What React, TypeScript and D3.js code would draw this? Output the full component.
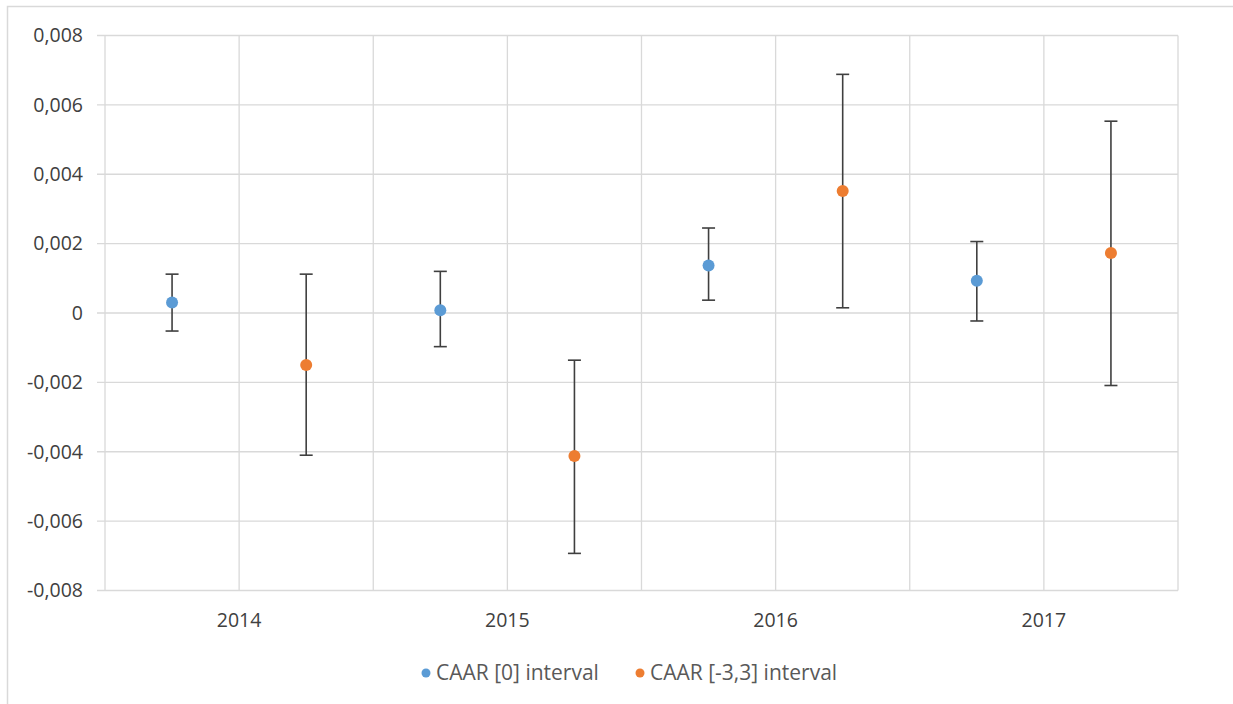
import React from "react";
import * as d3 from "d3";

const years = ["2014", "2015", "2016", "2017"];
const blueValues = [0.0003, 0.00008, 0.00137, 0.00093];
const blueLow = [-0.00052, -0.00097, 0.00037, -0.00023];
const blueHigh = [0.00112, 0.0012, 0.00245, 0.00206];
const orangeValues = [-0.0015, -0.00412, 0.00352, 0.00173];
const orangeLow = [-0.0041, -0.00693, 0.00015, -0.00209];
const orangeHigh = [0.00112, -0.00136, 0.00688, 0.00553];
const yTicks = [-0.008, -0.006, -0.004, -0.002, 0, 0.002, 0.004, 0.006, 0.008];
const seriesNames = ["CAAR [0] interval", "CAAR [-3,3] interval"];
const seriesColors = ["#5B9BD5", "#ED7D31"];

const W = 1233;
const H = 704;
const plot = { left: 105, right: 1178, top: 35.5, bottom: 590.5 };
const FONT = "'Open Sans', sans-serif";
const TEXT = "#404040";
const GRID = "#d9d9d9";

export default function App() {
  const x = d3.scaleLinear().domain([0, years.length * 2]).range([plot.left, plot.right]);
  const y = d3.scaleLinear().domain([-0.008, 0.008]).range([plot.bottom, plot.top]);
  const fmt = (v: number) => (Math.abs(v) < 1e-12 ? "0" : d3.format(".3f")(v).replace(".", ",").replace("−", "-"));
  const vGrid = d3.range(0, years.length * 2 + 1);

  const series = [
    { vals: blueValues, lo: blueLow, hi: blueHigh, offset: 0.5, color: seriesColors[0] },
    { vals: orangeValues, lo: orangeLow, hi: orangeHigh, offset: 1.5, color: seriesColors[1] },
  ];

  return (
    <svg width={W} height={H} style={{ position: "absolute", left: 0, top: 0, background: "#fff" }}>
      <rect x={7.5} y={6.5} width={W} height={H} fill="#fff" stroke={GRID} strokeWidth={1.5} />
      {yTicks.map((t) => (
        <g key={"y" + t}>
          <line x1={plot.left - 8} x2={plot.right} y1={y(t)} y2={y(t)} stroke={GRID} strokeWidth={1.3} />
          <text x={83} y={y(t)} dy="0.35em" textAnchor="end" fontFamily={FONT} fontSize={19.5} fill={TEXT}>
            {fmt(t)}
          </text>
        </g>
      ))}
      {vGrid.map((g) => (
        <line key={"v" + g} x1={x(g)} x2={x(g)} y1={plot.top} y2={plot.bottom} stroke={GRID} strokeWidth={1.3} />
      ))}
      {years.map((yr, i) => (
        <text key={yr} x={x(i * 2 + 1)} y={620} dy="0.35em" textAnchor="middle" fontFamily={FONT} fontSize={19.5} fill={TEXT}>
          {yr}
        </text>
      ))}
      {series.map((s, si) =>
        s.vals.map((v, i) => {
          const cx = x(i * 2 + s.offset);
          return (
            <g key={si + "-" + i}>
              <line x1={cx} x2={cx} y1={y(s.lo[i])} y2={y(s.hi[i])} stroke="#3f3f3f" strokeWidth={1.6} />
              <line x1={cx - 6.5} x2={cx + 6.5} y1={y(s.lo[i])} y2={y(s.lo[i])} stroke="#3f3f3f" strokeWidth={1.6} />
              <line x1={cx - 6.5} x2={cx + 6.5} y1={y(s.hi[i])} y2={y(s.hi[i])} stroke="#3f3f3f" strokeWidth={1.6} />
              <circle cx={cx} cy={y(v)} r={6} fill={s.color} />
            </g>
          );
        })
      )}
      <g>
        <circle cx={426} cy={673} r={4.5} fill={seriesColors[0]} />
        <text x={436} y={673} dy="0.35em" fontFamily={FONT} fontSize={21} fill="#595959">
          {seriesNames[0]}
        </text>
        <circle cx={640} cy={673} r={4.5} fill={seriesColors[1]} />
        <text x={650} y={673} dy="0.35em" fontFamily={FONT} fontSize={21} fill="#595959">
          {seriesNames[1]}
        </text>
      </g>
    </svg>
  );
}
